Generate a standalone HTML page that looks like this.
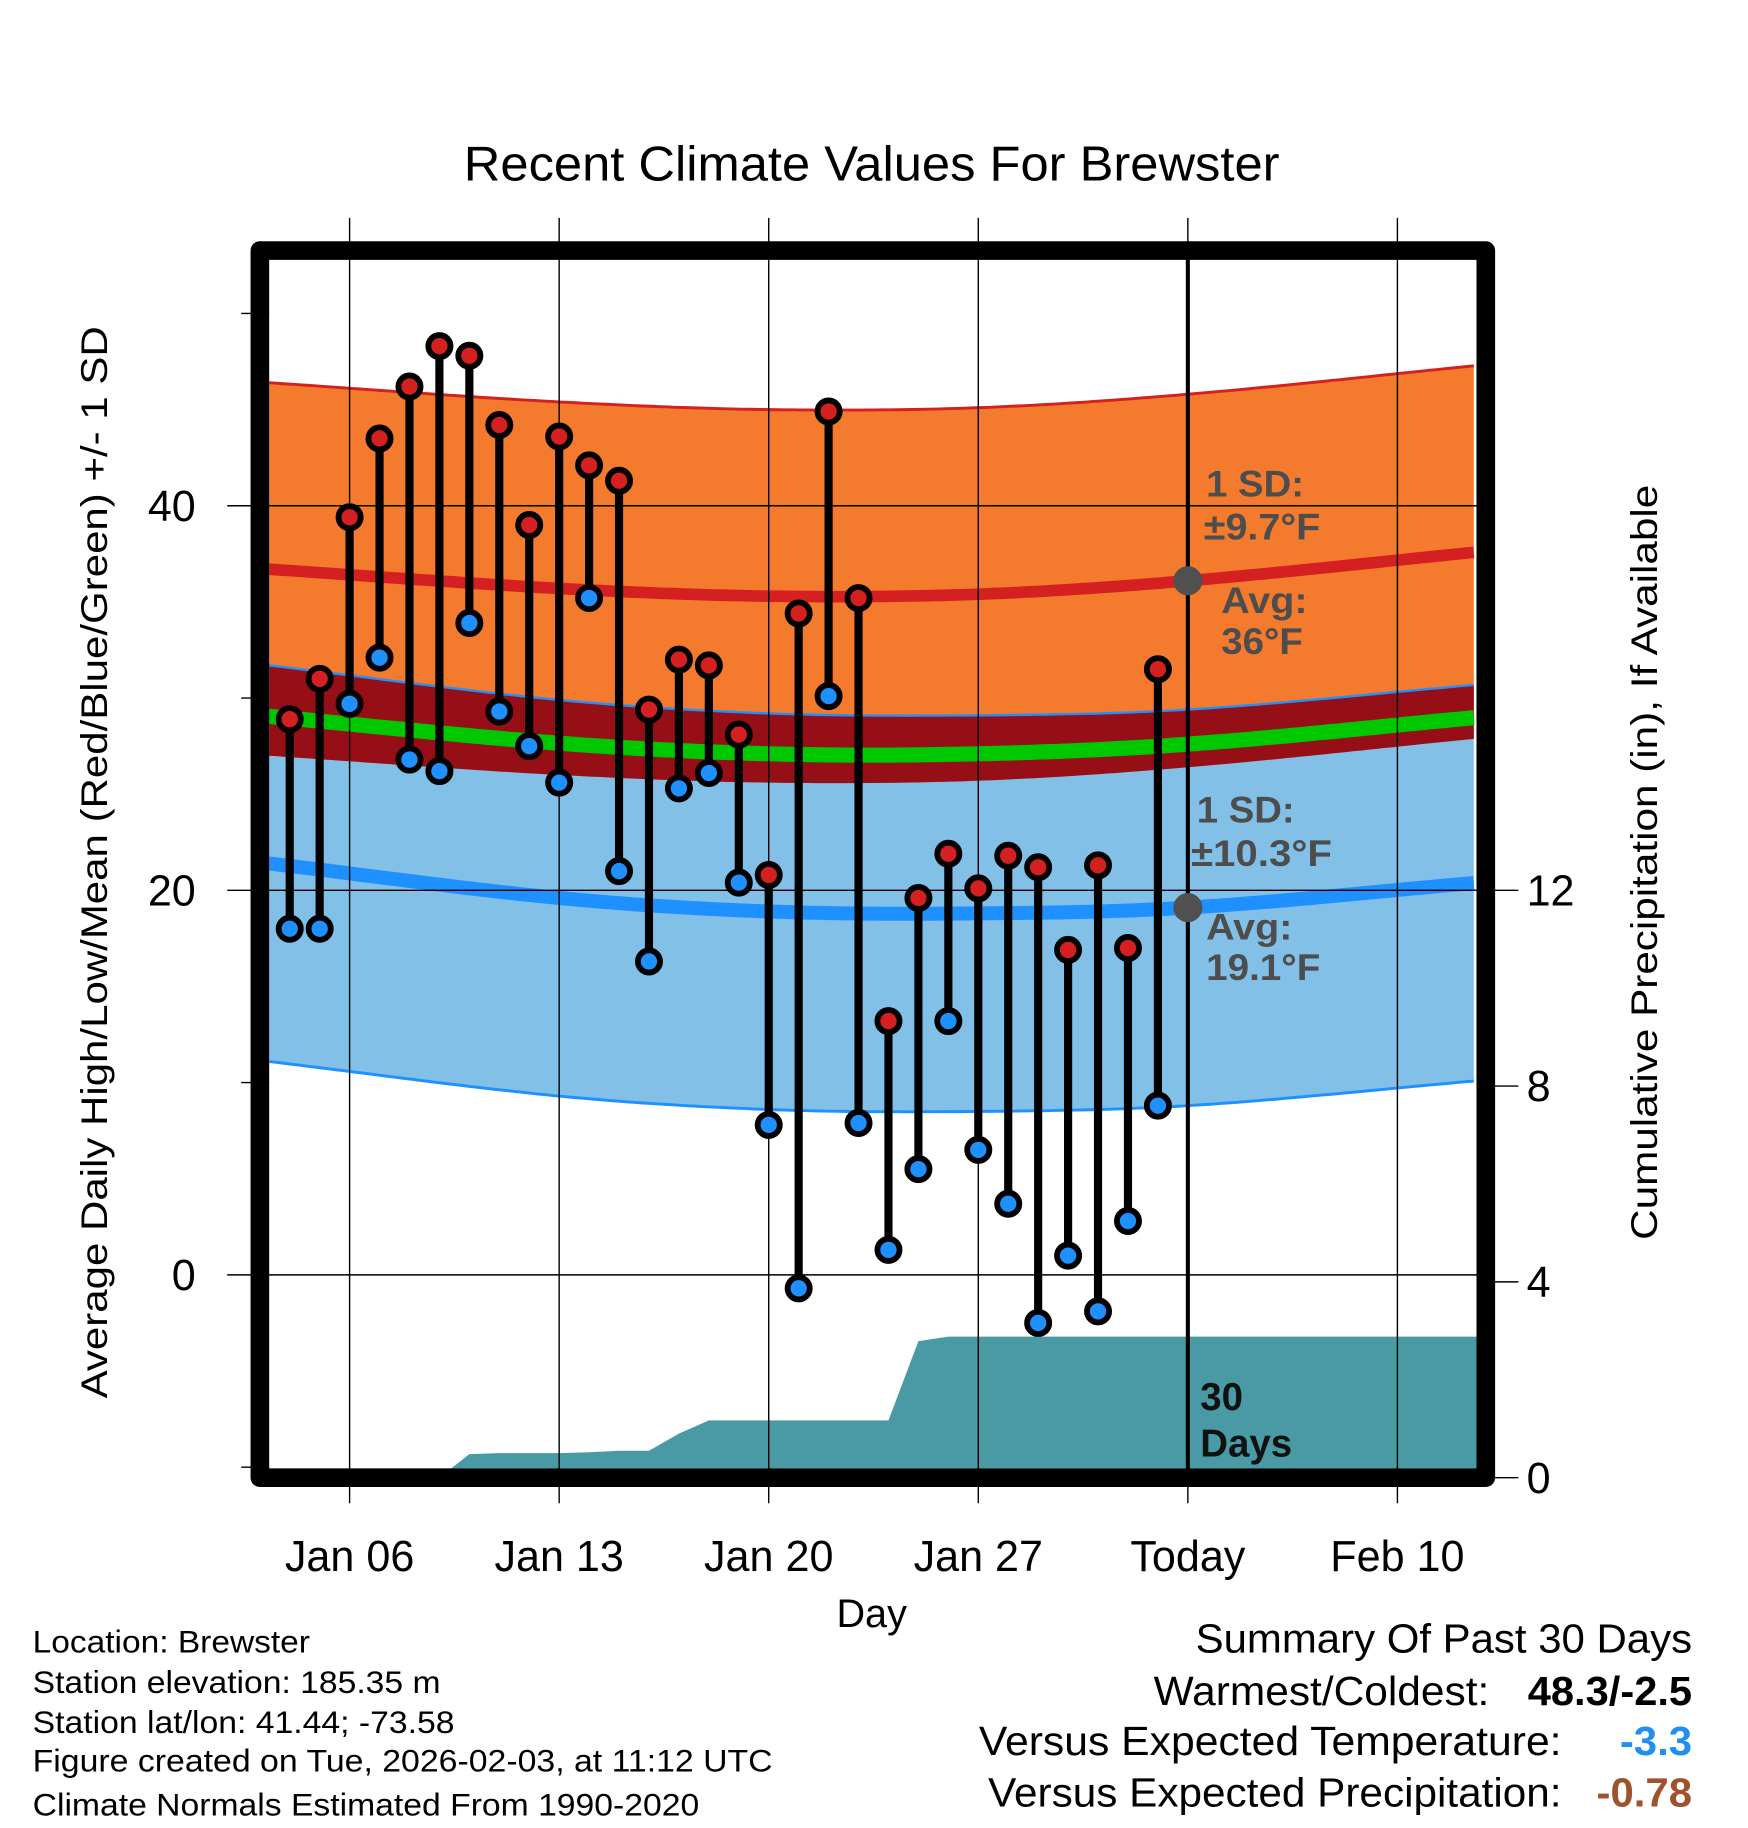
<!DOCTYPE html>
<html><head><meta charset="utf-8">
<style>html,body{margin:0;padding:0;background:#fff}svg{display:block}text{font-family:"Liberation Sans",sans-serif}</style>
</head><body>
<svg id="chart" xmlns="http://www.w3.org/2000/svg" width="1748" height="1828" viewBox="0 0 1500 1568.65">
<rect x="0" y="0" width="1500" height="1568.65" fill="#fff"/>
<text x="748" y="155" font-size="42" text-anchor="middle" textLength="700" lengthAdjust="spacingAndGlyphs">Recent Climate Values For Brewster</text>
<g id="plot"></g>
<g id="axes"></g>
<text transform="translate(92,740) rotate(-90)" font-size="32" text-anchor="middle" textLength="920" lengthAdjust="spacingAndGlyphs">Average Daily High/Low/Mean (Red/Blue/Green) +/- 1 SD</text>
<text transform="translate(1422,740) rotate(-90)" font-size="32" text-anchor="middle" textLength="648" lengthAdjust="spacingAndGlyphs">Cumulative Precipitation (in), If Available</text>
<text x="748" y="1396" font-size="34" text-anchor="middle">Day</text>
<g font-size="27">
<text x="28" y="1418" textLength="238" lengthAdjust="spacingAndGlyphs">Location: Brewster</text>
<text x="28" y="1453" textLength="350" lengthAdjust="spacingAndGlyphs">Station elevation: 185.35 m</text>
<text x="28" y="1487" textLength="362" lengthAdjust="spacingAndGlyphs">Station lat/lon: 41.44; -73.58</text>
<text x="28" y="1520" textLength="635" lengthAdjust="spacingAndGlyphs">Figure created on Tue, 2026-02-03, at 11:12 UTC</text>
<text x="28" y="1558" textLength="572" lengthAdjust="spacingAndGlyphs">Climate Normals Estimated From 1990-2020</text>
</g>
<g font-size="35">
<text x="1026" y="1418" textLength="426" lengthAdjust="spacingAndGlyphs">Summary Of Past 30 Days</text>
<text x="990" y="1463" textLength="288" lengthAdjust="spacingAndGlyphs">Warmest/Coldest:</text>
<text x="1311" y="1463" font-weight="bold" textLength="141" lengthAdjust="spacingAndGlyphs">48.3/-2.5</text>
<text x="840" y="1506" textLength="500" lengthAdjust="spacingAndGlyphs">Versus Expected Temperature:</text>
<text x="1390" y="1506" font-weight="bold" fill="#2090f0" textLength="62" lengthAdjust="spacingAndGlyphs">-3.3</text>
<text x="848" y="1550" textLength="492" lengthAdjust="spacingAndGlyphs">Versus Expected Precipitation:</text>
<text x="1370" y="1550" font-weight="bold" fill="#a0522d" textLength="82" lengthAdjust="spacingAndGlyphs">-0.78</text>
</g>
</svg>
<script>
// ---- data ----
const days = [4,5,6,7,8,9,10,11,12,13,14,15,16,17,18,19,20,21,22,23,24,25,26,27,28,29,30,31,32,33];
const highs = [28.9,31.0,39.4,43.5,46.2,48.3,47.8,44.2,39.0,43.6,42.1,41.3,29.4,32.0,31.7,28.1,20.8,34.4,44.9,35.2,13.2,19.6,21.9,20.1,21.8,21.2,16.9,21.3,17.0,31.5];
const lows = [18.0,18.0,29.7,32.1,26.8,26.2,33.9,29.3,27.5,25.6,35.2,21.0,16.3,25.3,26.1,20.4,7.8,-0.7,30.1,7.9,1.3,5.5,13.2,6.5,3.7,-2.5,1.0,-1.9,2.8,8.8];
const precip = [0,0,0,0,0,0,0.48,0.5,0.5,0.5,0.52,0.55,0.55,0.9,1.17,1.17,1.17,1.17,1.17,1.17,1.17,2.79,2.88,2.88,2.88,2.88,2.88,2.88,2.88,2.88];
const normDays = [3.3,13,20,27,34,43.7];
const hiMean = [36.7,35.7,35.3,35.4,36.1,37.6];
const loMean = [21.4,19.6,18.9,18.8,19.1,20.4];
const hiSD = 9.7, loSD = 10.3;
const xTickDays = [6,13,20,27,34,41];
const xTickLabels = ["Jan 06","Jan 13","Jan 20","Jan 27","Today","Feb 10"];
const yTicks = [0,20,40];
const yMinor = [-10,10,30,50];
const pTicks = [0,4,8,12];
const todayDay = 34;

// ---- axes functions ----
const X0=231,X1=1268,Y0=222,Y1=1260;
const x = d => 300 + (d-6)*25.69;
const y = t => 1094 - t*16.5;
const yp = p => 1268 - p*42;
const NS="http://www.w3.org/2000/svg";
function mk(tag, attrs, parent){const e=document.createElementNS(NS,tag);for(const k in attrs)e.setAttribute(k,attrs[k]);parent.appendChild(e);return e;}
function interp(arr,d){
  const n=normDays.length;
  let i=0;while(i<n-2&&d>normDays[i+1])i++;
  const x0=normDays[i],x1=normDays[i+1],h=x1-x0,t=Math.max(0,Math.min(1,(d-x0)/h));
  const slope=k=>{if(k===0)return (arr[1]-arr[0])/(normDays[1]-normDays[0]);if(k===n-1)return (arr[n-1]-arr[n-2])/(normDays[n-1]-normDays[n-2]);return (arr[k+1]-arr[k-1])/(normDays[k+1]-normDays[k-1]);};
  const m0=slope(i)*h,m1=slope(i+1)*h,t2=t*t,t3=t2*t;
  return (2*t3-3*t2+1)*arr[i]+(t3-2*t2+t)*m0+(-2*t3+3*t2)*arr[i+1]+(t3-t2)*m1;
}
const plot=document.getElementById('plot');
const axes=document.getElementById('axes');
const clip=mk('clipPath',{id:'pc'},plot);mk('rect',{x:X0,y:Y0,width:X1-X0,height:Y1-Y0},clip);
const g=mk('g',{'clip-path':'url(#pc)'},plot);
const sd=[];for(let d=3.3;d<=43.71;d+=0.25)sd.push(d);
function line(f){return sd.map(d=>x(d).toFixed(1)+','+y(f(d)).toFixed(1)).join(' ');}
function band(fu,fl){return line(fu)+' '+sd.slice().reverse().map(d=>x(d).toFixed(1)+','+y(fl(d)).toFixed(1)).join(' ');}
const hm=d=>interp(hiMean,d), lm=d=>interp(loMean,d);
let e;
e=mk('polygon',{points:band(d=>lm(d)+loSD,d=>lm(d)-loSD),fill:'#82c0e8'},g);


e=mk('polygon',{points:band(d=>hm(d)+hiSD,d=>hm(d)-hiSD),fill:'#f47a2e'},g);


e=mk('polygon',{points:band(d=>lm(d)+loSD,d=>hm(d)-hiSD),fill:'#960e16'},g);


mk('polyline',{points:line(d=>hm(d)+hiSD),fill:'none',stroke:'#d42020','stroke-width':2.5},g);
mk('polyline',{points:line(d=>lm(d)+loSD),fill:'none',stroke:'#1e90ff','stroke-width':2},g);
mk('polyline',{points:line(d=>lm(d)-loSD),fill:'none',stroke:'#1e90ff','stroke-width':2.5},g);
e=mk('polyline',{points:line(d=>(hm(d)+lm(d))/2),fill:'none',stroke:'#00c800','stroke-width':13},g);


e=mk('polyline',{points:line(hm),fill:'none',stroke:'#d42020','stroke-width':10},g);


e=mk('polyline',{points:line(lm),fill:'none',stroke:'#1e90ff','stroke-width':12},g);


// precip area
let pts=[x(3.3)+','+yp(0)];
pts.push(x(3.3)+','+yp(precip[0]));
days.forEach((d,i)=>pts.push(x(d)+','+yp(precip[i])));
pts.push(x(43.7)+','+yp(precip[precip.length-1]));
pts.push(x(43.7)+','+yp(0));
e=mk('polygon',{points:pts.join(' '),fill:'#4a9aa5'},g);


// grid
xTickDays.forEach((d,i)=>{
  mk('line',{x1:x(d),x2:x(d),y1:187,y2:1290,stroke:'#000','stroke-width':1.2},axes);
  e=mk('text',{x:x(d),y:1348,'font-size':37,'text-anchor':'middle'},axes);
  e.textContent=xTickLabels[i];
  
  
});
yTicks.forEach(t=>{
  mk('line',{x1:195,x2:X1,y1:y(t),y2:y(t),stroke:'#000','stroke-width':1.2},axes);
  e=mk('text',{x:168,y:y(t)+13,'font-size':37,'text-anchor':'end'},axes);
  e.textContent=String(t);
  
  
});
yMinor.forEach(t=>mk('line',{x1:207,x2:X0,y1:y(t),y2:y(t),stroke:'#000','stroke-width':1.2},axes));
pTicks.forEach(p=>{
  mk('line',{x1:X1,x2:1303,y1:yp(p),y2:yp(p),stroke:'#000','stroke-width':1.2},axes);
  e=mk('text',{x:1310,y:yp(p)+13,'font-size':37},axes);
  e.textContent=String(p);
  
  
});
// today line
e=mk('line',{x1:x(todayDay),x2:x(todayDay),y1:Y0,y2:Y1,stroke:'#000','stroke-width':3.5},axes);


// stems & dots
days.forEach((d,i)=>{
  e=mk('line',{x1:x(d),x2:x(d),y1:y(highs[i]),y2:y(lows[i]),stroke:'#000','stroke-width':7},axes);
  
  
});
days.forEach((d,i)=>{
  e=mk('circle',{cx:x(d),cy:y(highs[i]),r:9.5,fill:'#d42020',stroke:'#000','stroke-width':5},axes);
  
  
  e=mk('circle',{cx:x(d),cy:y(lows[i]),r:9.5,fill:'#1e90ff',stroke:'#000','stroke-width':5},axes);
  
  
});
// avg markers
e=mk('circle',{cx:x(todayDay),cy:y(hm(todayDay)),r:12.5,fill:'#505050'},axes);


e=mk('circle',{cx:x(todayDay),cy:y(lm(todayDay)),r:12.5,fill:'#505050'},axes);


// annotations
const ann=[["1 SD:",1035,426,84],["±9.7°F",1033,463,100],["Avg:",1048,526,74],["36°F",1048,561,70],["1 SD:",1027,706,84],["±10.3°F",1022,743,121],["Avg:",1035,806,74],["19.1°F",1035,841,98]];
ann.forEach(a=>{
  e=mk('text',{x:a[1],y:a[2],'font-size':32,'font-weight':'bold',fill:'#4d4d4d',textLength:a[3],lengthAdjust:'spacingAndGlyphs'},axes);
  e.textContent=a[0];
  
  
});
e=mk('text',{x:1030,y:1210,'font-size':33,'font-weight':'bold',fill:'#111'},axes);
e.textContent='30';


e=mk('text',{x:1030,y:1250,'font-size':33,'font-weight':'bold',fill:'#111'},axes);
e.textContent='Days';


// frame
e=mk('rect',{x:223,y:215,width:1052,height:1053,fill:'none',stroke:'#000','stroke-width':16,'stroke-linejoin':'round'},axes);


</script>
</body></html>
